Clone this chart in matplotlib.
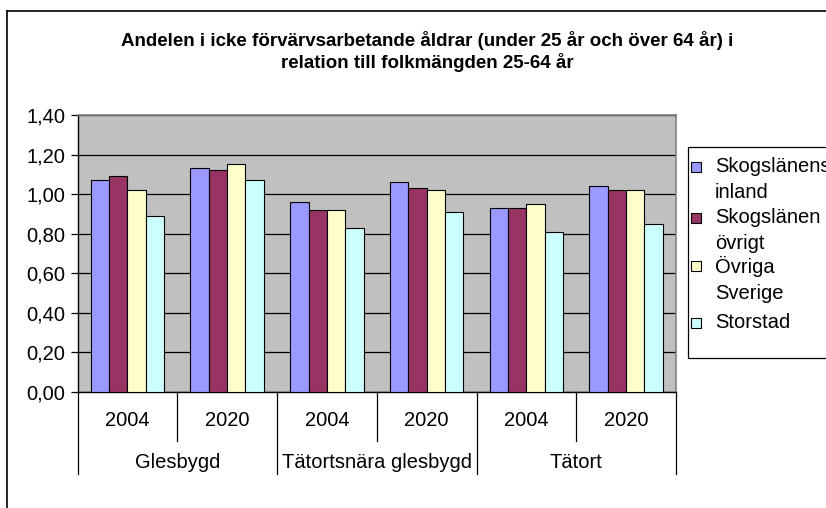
import matplotlib
matplotlib.use("Agg")
import matplotlib.pyplot as plt
from matplotlib.patches import Rectangle
from matplotlib.lines import Line2D
import numpy as np

plt.rcParams['font.family'] = ['Liberation Sans', 'DejaVu Sans']

years = ["2004", "2020", "2004", "2020", "2004", "2020"]
groups = ["Glesbygd", "Tätortsnära glesbygd", "Tätort"]
series = ["Skogslänens\ninland", "Skogslänen\növrigt", "Övriga\nSverige", "Storstad"]
skog_inland = [1.07, 1.13, 0.96, 1.06, 0.93, 1.04]
skog_ovrigt = [1.09, 1.12, 0.92, 1.03, 0.93, 1.02]
ovriga_sverige = [1.02, 1.15, 0.92, 1.02, 0.95, 1.02]
storstad = [0.89, 1.07, 0.83, 0.91, 0.81, 0.85]
colors = ['#9999FF', '#993366', '#FFFFCC', '#CCFFFF']

W, H = 826, 508
fig = plt.figure(figsize=(W / 100, H / 100), dpi=100)
fig.patch.set_facecolor('white')
FS = 14.5

def fx(px):
    return px / W

def fy(py):
    return 1 - py / H

# outer chart border (cut by the image edge on right/bottom)
fig.add_artist(Line2D([fx(7), fx(7)], [fy(11), 0], color='black', lw=1.2))
fig.add_artist(Line2D([fx(7), 1], [fy(11), fy(11)], color='black', lw=1.2))

left, right, top, bottom = 77.5, 676, 115, 392
ax = fig.add_axes([fx(left), fy(bottom), fx(right - left), (bottom - top) / H])
ax.set_facecolor('#C0C0C0')

x = np.arange(len(years))
data = [skog_inland, skog_ovrigt, ovriga_sverige, storstad]
bw = 0.184
for i, (vals, c) in enumerate(zip(data, colors)):
    ax.bar(x + (i - 1.5) * bw, vals, width=bw, color=c, edgecolor='black',
           linewidth=0.8, zorder=3)

ax.set_xlim(-0.5, len(years) - 0.5)
ax.set_ylim(0, 1.4)
yt = np.arange(0, 1.41, 0.2)
ax.set_yticks(yt)
ax.set_yticklabels([f"{v:.2f}".replace('.', ',') for v in yt], fontsize=FS)
ax.yaxis.grid(True, color='black', lw=0.9, zorder=1)
ax.set_axisbelow(True)
ax.tick_params(axis='y', direction='out', length=5, width=0.9, pad=4)
ax.set_xticks([])
for s in ['left', 'bottom']:
    ax.spines[s].set_color('black')
    ax.spines[s].set_linewidth(1.0)
for s in ['top', 'right']:
    ax.spines[s].set_color('#808080')
    ax.spines[s].set_linewidth(1.2)

# multi-level category axis
tr = ax.get_xaxis_transform()
h_ax = bottom - top
y_year = -(421 - bottom) / h_ax
y_grp = -(462 - bottom) / h_ax
y_sep1 = -(441 - bottom) / h_ax
y_sep2 = -(474 - bottom) / h_ax
for i, yr in enumerate(years):
    ax.text(i, y_year, yr, transform=tr, ha='center', va='center', fontsize=FS)
for b in range(len(years) + 1):
    end = y_sep2 if b % 2 == 0 else y_sep1
    ax.add_line(Line2D([b - 0.5, b - 0.5], [0, end], transform=tr, color='black',
                       lw=0.9, clip_on=False))
for g, name in enumerate(groups):
    ax.text(2 * g + 0.5, y_grp, name, transform=tr, ha='center', va='center',
            fontsize=FS)

# title
fig.text(fx(427), fy(41), "Andelen i icke förvärvsarbetande åldrar (under 25 år och över 64 år) i",
         ha='center', va='center', fontsize=13.5, fontweight='bold')
fig.text(fx(427), fy(62), "relation till folkmängden 25-64 år",
         ha='center', va='center', fontsize=13.5, fontweight='bold')

# legend
fig.add_artist(Rectangle((fx(688), fy(358)), fx(200), (358 - 147) / H,
                         transform=fig.transFigure, facecolor='white',
                         edgecolor='black', lw=0.9))
row_y = [167, 218, 266, 323]
for name, c, ry in zip(series, colors, row_y):
    fig.add_artist(Rectangle((fx(691), fy(ry + 5)), fx(10), 10 / H,
                             transform=fig.transFigure, facecolor=c,
                             edgecolor='black', lw=0.8))
    fig.text(fx(715), fy(ry - 10), name, ha='left', va='top', fontsize=FS,
             linespacing=1.45)

fig.savefig('out.png', dpi=100)
